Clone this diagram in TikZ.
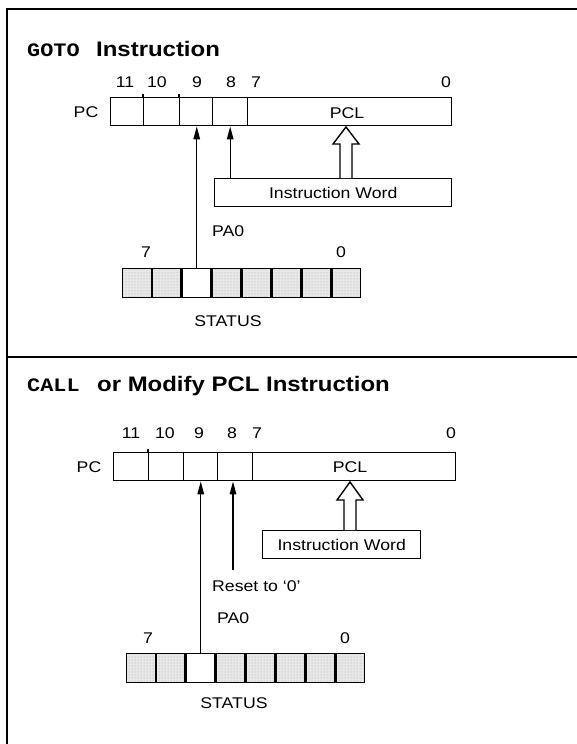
\documentclass[tikz,border=0pt]{standalone}
\usepackage{fontspec}
\usepackage{graphicx}
\setmainfont[FakeStretch=1.14]{Liberation Sans}
\newfontfamily\codefont[BoldFont={* Bold}]{Liberation Mono}
\newcommand\codeword[1]{\scalebox{1.15}[1]{\codefont\bfseries #1}}
\usetikzlibrary{arrows.meta,patterns}

\tikzset{
  cell/.style={draw, line width=1.4pt, minimum height=28pt, inner sep=0pt,
               anchor=north west, fill=white},
  stcell/.style={cell, minimum width=28.5pt, minimum height=28.5pt},
  grey/.style={preaction={fill=black!9}, pattern=dots, pattern color=black!35},
  lbl/.style={inner sep=0pt, font=\fontsize{15.5}{17}\selectfont},
  ttl/.style={inner sep=0pt, anchor=base west, font=\fontsize{21}{23}\selectfont\bfseries},
  code/.style={inner sep=0pt, anchor=base west, font=\fontsize{19}{21}\selectfont},
  ptr/.style={line width=1.4pt, -{Triangle[length=13pt,width=6.5pt]}},
  hollow/.style={draw, line width=1.4pt, fill=white, line join=miter},
  frame/.style={line width=2.6pt}
}

\begin{document}
\begin{tikzpicture}[x=1pt, y=-1pt]
  \useasboundingbox (0,0) rectangle (577,744);

  % outer frame and separator
  \draw[frame] (7,744) -- (7,9) -- (577,9);
  \draw[line width=1.8pt] (7,357) -- (577,357);

  % ---------------- GOTO instruction ----------------
  \node[code] (t-goto) at (27,56) {\codeword{GOTO}};
  \node[ttl]  (t-title) at (96,56) {Instruction};

  % program counter
  \node[cell, minimum width=33pt]  (a11) at (110,97) {};
  \node[cell, minimum width=36pt]  (a10) at (143,97) {};
  \node[cell, minimum width=33pt]  (a9)  at (179,97) {};
  \node[cell, minimum width=35pt]  (a8)  at (212,97) {};
  \node[cell, minimum width=204pt] (a7)  at (247,97) {};
  \draw[line width=1.4pt] (a10.north west) -- ++(0,-3);
  \draw[line width=1.4pt] (a9.north west) -- ++(0,-3);
  \node[lbl] (apcl) at (347,113) {PCL};
  \node[lbl] (apc)  at (86,112) {PC};
  \node[lbl] (ab11) at (125,82) {11};
  \node[lbl] (ab10) at (157,82) {10};
  \node[lbl] (ab9)  at (197,82) {9};
  \node[lbl] (ab8)  at (231,82) {8};
  \node[lbl] (ab7)  at (256,82) {7};
  \node[lbl] (ab0)  at (446,82) {0};

  % instruction word
  \node[cell, minimum width=237pt] (aiw) at (214,178) {};
  \node[lbl] at (aiw.center) {Instruction Word};

  % STATUS register
  \node[stcell, grey] (as7) at (122,268) {};
  \node[stcell, grey] (as6) at (as7.north east) {};
  \node[stcell]       (as5) at (as6.north east) {};
  \node[stcell, grey] (as4) at (as5.north east) {};
  \node[stcell, grey] (as3) at (as4.north east) {};
  \node[stcell, grey] (as2) at (as3.north east) {};
  \node[stcell, grey] (as1) at (as2.north east) {};
  \node[stcell, grey] (as0) at (as1.north east) {};
  \node[lbl] (asb7) at (146,252) {7};
  \node[lbl] (asb0) at (341,252) {0};
  \node[lbl] (astat) at (228,321) {STATUS};
  \node[lbl, anchor=west] (apa0) at (212,231) {PA0};

  % connections
  \draw[ptr] (as5.north) -- (a9.south -| as5.north);
  \draw[ptr] (aiw.north -| a8.south) -- (a8.south);
  \coordinate (ah) at (346,178);
  \draw[hollow] (ah) ++(-6,0) -- ++(0,-34) -- ++(-7,0) -- ++(13,-17)
        -- ++(13,17) -- ++(-7,0) -- ++(0,34);

  % ---------------- CALL instruction ----------------
  \node[code] (b-call) at (27,391) {\codeword{CALL}};
  \node[ttl]  (b-title) at (97,391) {or Modify PCL Instruction};

  % program counter
  \node[cell, minimum width=35pt]  (b11) at (113,452) {};
  \node[cell, minimum width=35pt]  (b10) at (148,452) {};
  \node[cell, minimum width=34pt]  (b9)  at (183,452) {};
  \node[cell, minimum width=35pt]  (b8)  at (217,452) {};
  \node[cell, minimum width=203pt] (b7)  at (252,452) {};
  \draw[line width=1.4pt] (b10.north west) -- ++(0,-3);
  \node[lbl] (bpcl) at (350,467) {PCL};
  \node[lbl] (bpc)  at (89,467) {PC};
  \node[lbl] (bb11) at (131,433) {11};
  \node[lbl] (bb10) at (165,433) {10};
  \node[lbl] (bb9)  at (199,433) {9};
  \node[lbl] (bb8)  at (232,433) {8};
  \node[lbl] (bb7)  at (257,433) {7};
  \node[lbl] (bb0)  at (451,433) {0};

  % instruction word
  \node[cell, minimum width=158pt] (biw) at (262,530) {};
  \node[lbl] at (biw.center) {Instruction Word};

  % STATUS register
  \node[stcell, grey] (bs7) at (126,653) {};
  \node[stcell, grey] (bs6) at (bs7.north east) {};
  \node[stcell]       (bs5) at (bs6.north east) {};
  \node[stcell, grey] (bs4) at (bs5.north east) {};
  \node[stcell, grey] (bs3) at (bs4.north east) {};
  \node[stcell, grey] (bs2) at (bs3.north east) {};
  \node[stcell, grey] (bs1) at (bs2.north east) {};
  \node[stcell, grey] (bs0) at (bs1.north east) {};
  \node[lbl] (bsb7) at (148,638) {7};
  \node[lbl] (bsb0) at (345,638) {0};
  \node[lbl] (bstat) at (234,703) {STATUS};
  \node[lbl, anchor=west] (bpa0) at (217,618) {PA0};
  \node[lbl, anchor=west] (breset) at (212,586) {Reset to ‘0’};

  % connections
  \draw[ptr] (bs5.north) -- (b9.south -| bs5.north);
  \coordinate (breset-top) at (233,570);
  \draw[ptr] (breset-top) -- (b8.south -| breset-top);
  \coordinate (bh) at (350,530);
  \draw[hollow] (bh) ++(-6,0) -- ++(0,-30) -- ++(-7,0) -- ++(13,-18)
        -- ++(13,18) -- ++(-7,0) -- ++(0,30);
\end{tikzpicture}
\end{document}
